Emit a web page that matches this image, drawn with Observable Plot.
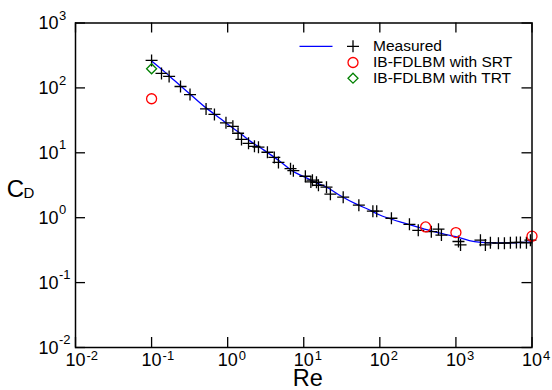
<!DOCTYPE html>
<html><head><meta charset="utf-8">
<script src="https://cdn.jsdelivr.net/npm/d3@7"></script>
<script src="https://cdn.jsdelivr.net/npm/@observablehq/plot@0.6"></script>
<style>body{margin:0;background:#fff;}</style>
</head><body><div id="chart"></div>
<script>
// Measured drag coefficient (black plus markers)
const measuredRe = [0.1, 0.135, 0.17, 0.24, 0.32, 0.52, 0.67, 0.95, 1.17, 1.37, 1.52, 1.88, 2.25, 2.54, 3.33, 4.1, 4.65, 6.7, 7.3, 10.5, 12.4, 13, 14.7, 15.6, 19.9, 22.4, 33, 53, 81, 91, 142, 245, 320, 475, 590, 645, 1080, 1150, 2100, 2440, 2840, 3620, 4340, 5200, 6240, 7040, 8450, 9530];
const measuredCd = [265, 167, 150, 105, 79, 47.5, 39, 29, 25.6, 20, 16.1, 14, 12.6, 12.2, 10.2, 8.5, 7.1, 5.7, 5.3, 4.35, 3.56, 3.78, 3.52, 3.16, 2.95, 2.3, 2.07, 1.56, 1.26, 1.26, 0.98, 0.79, 0.64, 0.61, 0.665, 0.54, 0.43, 0.38, 0.45, 0.38, 0.41, 0.405, 0.405, 0.41, 0.416, 0.416, 0.41, 0.45];
// Measured curve (blue line)
const curveRe = [0.1, 0.15, 0.2, 0.3, 0.5, 0.7, 1, 1.5, 2, 3, 5, 7, 10, 15, 20, 30, 50, 70, 100, 150, 200, 300, 500, 700, 1000, 1500, 2000, 3000, 5000, 7000, 10000];
const curveCd = [260, 175, 130, 86, 51, 38, 27.5, 19.5, 15, 11, 7.2, 5.3, 4.3, 3.4, 2.95, 2.2, 1.6, 1.35, 1.1, 0.93, 0.84, 0.73, 0.615, 0.56, 0.51, 0.445, 0.42, 0.41, 0.41, 0.415, 0.425];
// IB-FDLBM with SRT (red circles)
const srtRe = [0.1, 400, 1000, 10000];
const srtCd = [68, 0.72, 0.59, 0.52];
// IB-FDLBM with TRT (green diamond)
const trtRe = [0.1];
const trtCd = [197];
// Ticks
const xTickValues = [1e-2, 1e-1, 1e0, 1e1, 1e2, 1e3, 1e4];
const xTickExps = ["-2", "-1", "0", "1", "2", "3", "4"];
const yTickValues = [1e-2, 1e-1, 1e0, 1e1, 1e2, 1e3];
const yTickExps = ["-2", "-1", "0", "1", "2", "3"];
const legendLabels = ["Measured", "IB-FDLBM with SRT", "IB-FDLBM with TRT"];

const measured = measuredRe.map((x, i) => ({x, y: measuredCd[i]}));
const curve = curveRe.map((x, i) => ({x, y: curveCd[i]}));
const srt = srtRe.map((x, i) => ({x, y: srtCd[i]}));
const trt = trtRe.map((x, i) => ({x, y: trtCd[i]}));
const xTicks = xTickValues.map((v, i) => ({v, e: xTickExps[i]}));
const yTicks = yTickValues.map((v, i) => ({v, e: yTickExps[i]}));

const W = 552, H = 390;
const mL = 75, mR = 20.5, mT = 22.5, mB = 43;
const innerW = W - mL - mR, innerH = H - mT - mB;
const tickLen = 10;
const font = "Liberation Sans, Arial, Helvetica, sans-serif";

const plusSym = {draw(ctx, size) { const r = Math.sqrt(size / Math.PI); ctx.moveTo(-r, 0); ctx.lineTo(r, 0); ctx.moveTo(0, -r); ctx.lineTo(0, r); }};
const diamondSym = {draw(ctx, size) { const r = Math.sqrt(size / Math.PI); ctx.moveTo(0, -r); ctx.lineTo(r, 0); ctx.lineTo(0, r); ctx.lineTo(-r, 0); ctx.closePath(); }};
const lineSym = {draw(ctx, size) { const r = Math.sqrt(size / Math.PI); ctx.moveTo(-r, 0); ctx.lineTo(r, 0); }};

const legX = 277.5, legTextX = 297.5, legRows = [23.3, 39.5, 55.2];

const chart = Plot.plot({
  width: W, height: H,
  marginLeft: mL, marginRight: mR, marginTop: mT, marginBottom: mB,
  style: {fontFamily: font, background: "#fff", overflow: "visible"},
  x: {type: "log", domain: [1e-2, 1e4], axis: null},
  y: {type: "log", domain: [1e-2, 1e3], axis: null},
  marks: [
    // ticks inward on all four sides
    Plot.tickX(xTicks, {x: "v", insetTop: innerH - tickLen, stroke: "black", strokeWidth: 1.3}),
    Plot.tickX(xTicks, {x: "v", insetBottom: innerH - tickLen, stroke: "black", strokeWidth: 1.3}),
    Plot.tickY(yTicks, {y: "v", insetRight: innerW - tickLen, stroke: "black", strokeWidth: 1.3}),
    Plot.tickY(yTicks, {y: "v", insetLeft: innerW - tickLen, stroke: "black", strokeWidth: 1.3}),
    // tick labels
    Plot.text(xTicks, {x: "v", text: () => "10", frameAnchor: "bottom", dy: 13, fontSize: 18, lineAnchor: "middle"}),
    Plot.text(xTicks, {x: "v", text: "e", frameAnchor: "bottom", dx: 11, dy: 8.5, fontSize: 13, textAnchor: "start", lineAnchor: "middle"}),
    Plot.text(yTicks, {y: "v", text: () => "10", frameAnchor: "left", dx: -17, dy: 0.5, fontSize: 18, textAnchor: "end", lineAnchor: "middle"}),
    Plot.text(yTicks, {y: "v", text: "e", frameAnchor: "left", dx: -16.5, dy: -7.5, fontSize: 13, textAnchor: "start", lineAnchor: "middle"}),
    // axis titles
    Plot.text(["Re"], {text: d => d, frameAnchor: "bottom", dx: 4, dy: 30.8, fontSize: 23.5, lineAnchor: "middle"}),
    Plot.text(["C"], {text: d => d, frameAnchor: "left", dx: -60, dy: 4, fontSize: 24, textAnchor: "middle", lineAnchor: "middle"}),
    Plot.text(["D"], {text: d => d, frameAnchor: "left", dx: -52, dy: 7.5, fontSize: 15, textAnchor: "start", lineAnchor: "middle"}),
    // data
    Plot.line(curve, {x: "x", y: "y", stroke: "#0000ff", strokeWidth: 1.3, curve: "monotone-x"}),
    Plot.dot(measured, {x: "x", y: "y", symbol: plusSym, r: 6, stroke: "black", fill: "none", strokeWidth: 1.3}),
    Plot.dot(srt, {x: "x", y: "y", symbol: "circle", r: 5, stroke: "#ff0000", fill: "none", strokeWidth: 1.3}),
    Plot.dot(trt, {x: "x", y: "y", symbol: diamondSym, r: 5, stroke: "#008000", fill: "none", strokeWidth: 1.3}),
    // legend
    Plot.dot([legendLabels[0]], {frameAnchor: "top-left", dx: 240.5, dy: legRows[0], symbol: lineSym, r: 16.5, stroke: "#0000ff", fill: "none", strokeWidth: 1.3}),
    Plot.dot([legendLabels[0]], {frameAnchor: "top-left", dx: legX, dy: legRows[0], symbol: plusSym, r: 6, stroke: "black", fill: "none", strokeWidth: 1.3}),
    Plot.dot([legendLabels[1]], {frameAnchor: "top-left", dx: legX, dy: legRows[1], symbol: "circle", r: 5, stroke: "#ff0000", fill: "none", strokeWidth: 1.3}),
    Plot.dot([legendLabels[2]], {frameAnchor: "top-left", dx: legX, dy: legRows[2], symbol: diamondSym, r: 5, stroke: "#008000", fill: "none", strokeWidth: 1.3}),
    Plot.text([legendLabels[0]], {text: d => d, frameAnchor: "top-left", dx: legTextX, dy: legRows[0], fontSize: 15.5, textAnchor: "start", lineAnchor: "middle"}),
    Plot.text([legendLabels[1]], {text: d => d, frameAnchor: "top-left", dx: legTextX, dy: legRows[1], fontSize: 15.5, textAnchor: "start", lineAnchor: "middle"}),
    Plot.text([legendLabels[2]], {text: d => d, frameAnchor: "top-left", dx: legTextX, dy: legRows[2], fontSize: 15.5, textAnchor: "start", lineAnchor: "middle"}),
    Plot.frame({stroke: "black", strokeWidth: 1.5})
  ]
});
document.getElementById("chart").appendChild(chart);
</script>
</body></html>
